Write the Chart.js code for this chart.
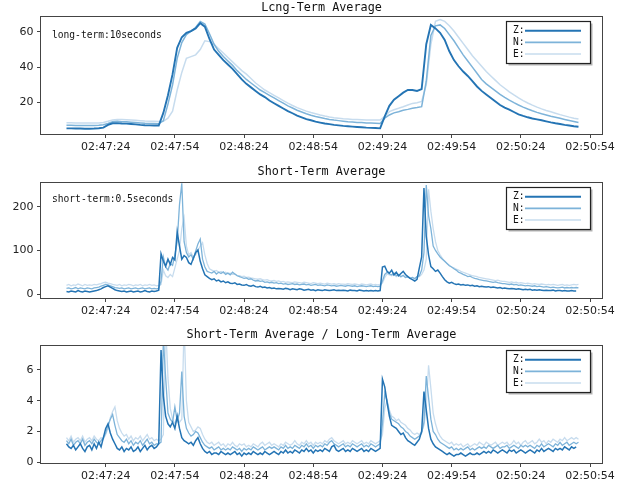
<!DOCTYPE html>
<html>
<head>
<meta charset="utf-8">
<script src="https://cdn.jsdelivr.net/npm/chart.js@4.4.0/dist/chart.umd.min.js"></script>
<style>
  body { margin: 0; background: #fff; }
  #wrap { position: relative; width: 628px; height: 485px; }
  canvas { position: absolute; left: 0; }
</style>
</head>
<body>
<div id="wrap">
  <canvas id="ltaChart" width="628" height="160" style="top:0px"></canvas>
  <canvas id="staChart" width="628" height="160" style="top:160px"></canvas>
  <canvas id="ratioChart" width="628" height="165" style="top:320px"></canvas>
</div>
<script>
// time axis: seconds after 02:47:00
const tickSeconds = [24, 54, 84, 114, 144, 174, 204, 234];
const tickLabels = ['02:47:24', '02:47:54', '02:48:24', '02:48:54', '02:49:24', '02:49:54', '02:50:24', '02:50:54'];
const channels = ['Z:', 'N:', 'E:'];

// long-term average, one sample every 2 s from 02:47:07
const ltaStart = 7, ltaStep = 2;
const ltaZ = [
  5.2, 5.2, 5.1, 5.1, 5.0, 5.0, 5.1, 5.3, 5.6, 7.2,
  8.1, 8.2, 8.0, 7.9, 7.7, 7.5, 7.2, 7.0, 6.9, 6.8,
  6.8, 14, 24, 36, 51, 57, 59.5, 60.5, 62, 65,
  63, 56, 50, 47, 44, 41.5, 39, 36, 33, 30.5,
  28.5, 26.5, 24.5, 23, 21, 19.5, 18, 16.5, 15, 13.8,
  12.5, 11.5, 10.5, 9.8, 9.0, 8.5, 8.0, 7.6, 7.2, 6.9,
  6.6, 6.4, 6.2, 6.0, 5.8, 5.6, 5.5, 5.4, 5.2, 12,
  18, 21.5, 23.5, 25.5, 27, 27, 26.5, 27.5, 53, 64,
  62, 59.5, 55.5, 49, 44, 40.5, 37.5, 35, 32, 29,
  26.5, 24.5, 22.5, 20.5, 18.5, 17, 15.8, 14.5, 13.2, 12.3,
  11.5, 10.8, 10.3, 9.8, 9.2, 8.6, 8.1, 7.7, 7.2, 6.8,
  6.4, 6.1
];
const ltaN = [
  7.0, 7.0, 6.9, 6.9, 6.8, 6.8, 6.9, 7.0, 7.3, 8.0,
  9.0, 9.2, 9.0, 8.9, 8.7, 8.5, 8.3, 8.1, 8.0, 7.9,
  7.8, 9.5, 19, 30, 45, 54, 58.5, 60.5, 62.5, 66,
  64.5, 59, 53, 49, 46, 43.5, 41, 38, 35.5, 33,
  31, 29, 27, 25.5, 24, 22.5, 21, 19.5, 18, 16.8,
  15.5, 14.5, 13.5, 12.7, 12, 11.4, 10.8, 10.3, 9.9, 9.6,
  9.3, 9.0, 8.8, 8.6, 8.5, 8.3, 8.2, 8.1, 8.0, 11,
  12.8, 14, 14.7, 15.5, 16, 16.6, 17, 17.5, 32, 58,
  63.5, 64, 62, 58.5, 55, 51, 47, 43.5, 40, 36.5,
  33, 30.5, 28.5, 26.5, 24.5, 22.8, 21.2, 19.8, 18.5, 17.3,
  16.2, 15.2, 14.3, 13.5, 12.8, 12.1, 11.5, 10.9, 10.3, 9.7,
  9.1, 8.5
];
const ltaE = [
  8.4, 8.4, 8.3, 8.3, 8.2, 8.2, 8.2, 8.3, 8.5, 9.2,
  10.0, 10.3, 10.2, 10.1, 10.0, 9.8, 9.6, 9.4, 9.3, 9.2,
  9.1, 9.2, 11, 15, 27, 37, 45, 46, 47, 50,
  55, 54.5, 53, 50.5, 48, 45.5, 43, 40.5, 38, 36,
  33.5, 31, 29, 27, 25.5, 24, 22.5, 21, 19.5, 18.2,
  17, 16, 15, 14.2, 13.5, 12.8, 12.2, 11.7, 11.3, 11,
  10.7, 10.5, 10.3, 10.2, 10.1, 10, 10, 9.9, 9.9, 12,
  14.7, 15.8, 16.6, 17.5, 18.5, 19.4, 19.8, 20.5, 30, 53,
  66, 67, 66, 63.5, 60.5, 57, 53.5, 50, 46.5, 43.5,
  40.5, 37.5, 35, 32.5, 30, 28, 26, 24.2, 22.5, 21,
  19.6, 18.4, 17.3, 16.3, 15.4, 14.6, 13.8, 13, 12.3, 11.6,
  11, 10.5
];

// short-term average and ratio, one sample every 1 s from 02:47:07
const staStart = 7, staStep = 1;
const staZ = [
  6, 5, 7, 6, 5, 8, 6, 5, 7, 6,
  5, 6, 7, 8, 10, 12, 15, 17, 19, 16,
  13, 10, 8, 7, 6, 7, 5, 6, 7, 5,
  6, 7, 5, 6, 8, 6, 5, 7, 6, 7,
  9, 92, 75, 64, 80, 68, 84, 78, 143, 110,
  80, 88, 84, 72, 68, 82, 95, 101, 75, 58,
  44, 40, 36, 33, 35, 30, 32, 28, 30, 26,
  28, 25, 24, 26, 22, 23, 21, 20, 22, 19,
  18, 20, 17, 16, 18, 15, 16, 14, 15, 13,
  14, 12, 13, 12, 11, 13, 12, 10, 12, 11,
  10, 12, 11, 9, 10, 11, 9, 10, 8, 10,
  9, 8, 10, 9, 8, 9, 10, 8, 9, 8,
  9, 8, 7, 9, 8, 8, 7, 9, 8, 7,
  8, 7, 8, 7, 8, 7, 8, 62, 64, 52,
  48, 55, 44, 50, 42, 47, 52, 45, 40, 36,
  33, 30, 34, 60, 85, 243, 132, 90, 63, 58,
  52, 55, 48, 40, 33, 28, 25, 27, 24, 22,
  23, 21, 22, 20, 21, 19, 20, 18, 19, 17,
  18, 17, 16, 17, 15, 16, 15, 14, 15, 13,
  14, 13, 12, 13, 12, 11, 12, 11, 10, 11,
  10, 11, 9, 10, 9, 10, 9, 8, 9, 8,
  8, 9, 7, 8, 8, 7, 8, 7, 7, 8,
  7, 7
];
const staN = [
  13, 14, 12, 13, 15, 12, 14, 13, 12, 14,
  13, 12, 14, 15, 16, 18, 20, 22, 21, 19,
  17, 15, 14, 13, 14, 12, 13, 14, 12, 13,
  14, 12, 13, 14, 12, 13, 14, 12, 13, 12,
  13, 30, 85, 62, 55, 70, 66, 90, 120, 205,
  254, 120, 95, 85, 90, 80, 98, 115, 126, 80,
  62, 52, 50, 48, 52, 46, 50, 47, 51, 45,
  48, 44, 50, 46, 42, 40, 38, 36, 37, 34,
  35, 32, 30, 31, 29, 30, 27, 28, 26, 27,
  25, 26, 24, 25, 23, 24, 22, 23, 24, 22,
  23, 21, 22, 23, 21, 22, 20, 21, 22, 20,
  21, 20, 19, 21, 20, 19, 20, 18, 19, 20,
  19, 18, 20, 19, 18, 19, 17, 18, 19, 18,
  17, 18, 19, 17, 18, 17, 18, 30, 45, 50,
  46, 44, 48, 42, 45, 40, 43, 38, 40, 36,
  38, 35, 40, 42, 55, 95, 250, 180, 150, 110,
  100, 92, 85, 80, 75, 70, 65, 62, 58, 55,
  50, 48, 45, 43, 40, 41, 38, 36, 35, 33,
  32, 31, 30, 29, 28, 27, 28, 26, 25, 24,
  24, 23, 22, 23, 21, 22, 20, 21, 20, 19,
  20, 19, 18, 19, 17, 18, 17, 16, 17, 16,
  15, 16, 15, 14, 15, 16, 14, 15, 14, 15,
  14, 15, 14
];
const staE = [
  20, 22, 19, 21, 20, 23, 21, 19, 22, 20,
  21, 20, 22, 21, 23, 24, 26, 27, 25, 24,
  22, 21, 20, 22, 19, 21, 20, 22, 21, 19,
  21, 20, 22, 19, 21, 20, 22, 20, 21, 19,
  20, 22, 55, 42, 38, 45, 40, 60, 80, 100,
  150, 175, 110, 90, 95, 85, 90, 100, 110, 118,
  90, 70, 58, 55, 52, 54, 50, 52, 48, 50,
  47, 48, 45, 46, 43, 42, 40, 41, 38, 39,
  37, 36, 35, 34, 35, 33, 32, 33, 31, 30,
  31, 29, 30, 28, 29, 27, 28, 27, 26, 28,
  27, 26, 25, 27, 26, 25, 24, 26, 25, 24,
  25, 24, 23, 25, 24, 23, 24, 22, 24, 23,
  23, 22, 24, 23, 22, 23, 22, 21, 23, 22,
  21, 22, 23, 21, 22, 21, 22, 25, 38, 46,
  44, 42, 45, 40, 43, 39, 42, 38, 40, 37,
  38, 36, 39, 40, 45, 55, 80, 240, 190, 150,
  120, 100, 90, 82, 75, 70, 66, 62, 60, 57,
  55, 52, 50, 48, 46, 44, 42, 41, 40, 38,
  37, 36, 35, 34, 33, 32, 31, 32, 30, 29,
  29, 28, 27, 28, 26, 27, 25, 26, 25, 24,
  25, 24, 23, 24, 23, 22, 23, 22, 21, 22,
  21, 22, 21, 20, 21, 22, 20, 21, 20, 21,
  22, 21, 22
];
const ratioZ = [
  1.2, 1.0, 0.9, 1.1, 0.8, 1.0, 1.2, 0.9, 0.7, 1.0,
  1.1, 0.8, 1.2, 0.9, 1.3, 1.0, 1.6, 2.2, 2.5, 1.9,
  1.5, 1.2, 0.9, 0.8, 1.0, 0.7, 0.9, 0.8, 1.0, 0.7,
  0.8, 1.0, 0.7, 0.9, 1.1, 0.8, 1.0, 1.1, 0.9, 1.0,
  1.2, 7.3, 4.3, 3.0, 2.5, 2.3, 2.6, 2.2, 3.0, 2.2,
  1.6, 1.4, 1.3, 1.2, 1.3, 1.1, 1.4, 1.6, 1.2, 0.9,
  0.7, 0.6, 0.7, 0.5, 0.6, 0.6, 0.5, 0.7, 0.6, 0.5,
  0.6, 0.5, 0.6, 0.7, 0.5, 0.6, 0.4, 0.6, 0.5, 0.6,
  0.5, 0.7, 0.6, 0.5, 0.6, 0.5, 0.7, 0.6, 0.5, 0.6,
  0.7, 0.6, 0.5, 0.7, 0.6, 0.8, 0.6, 0.7, 0.6, 0.8,
  0.7, 0.6, 0.8, 0.7, 0.9, 0.7, 0.8, 0.6, 0.8, 0.7,
  0.8, 0.7, 0.9, 0.8, 0.7, 1.0, 1.1, 0.8, 0.7, 0.8,
  0.9, 0.7, 0.8, 0.7, 0.9, 0.8, 0.7, 0.8, 0.9, 0.7,
  0.8, 0.7, 0.9, 0.8, 0.7, 0.8, 0.9, 5.4, 4.9, 3.9,
  3.0, 2.4, 2.3, 2.2, 2.0, 1.8, 1.9, 1.6, 1.4, 1.3,
  1.2, 1.1, 1.3, 1.5, 2.0, 4.6, 3.4, 2.2, 1.5, 1.2,
  1.0, 0.9, 0.8, 0.7, 0.6, 0.5, 0.6, 0.5, 0.4, 0.5,
  0.5, 0.6, 0.5, 0.4, 0.5, 0.6, 0.5, 0.5, 0.6, 0.5,
  0.6, 0.7, 0.6, 0.7, 0.6, 0.8, 0.7, 0.6, 0.7, 0.8,
  0.7, 0.6, 0.8, 0.7, 0.8, 0.6, 0.7, 0.8, 0.7, 0.6,
  0.7, 0.8, 0.7, 0.6, 0.8, 0.7, 0.9, 0.7, 0.8, 0.9,
  0.8, 0.7, 0.9, 0.8, 0.9, 0.8, 1.0, 0.9, 0.8, 1.0,
  0.9, 1.0
];
const ratioN = [
  1.4, 1.2, 1.5, 1.1, 1.3, 1.4, 1.2, 1.5, 1.1, 1.3,
  1.4, 1.2, 1.5, 1.3, 1.2, 1.4, 1.6, 1.9, 2.4, 2.8,
  3.1, 2.4, 1.8, 1.6, 1.4, 1.3, 1.5, 1.2, 1.4, 1.1,
  1.3, 1.2, 1.4, 1.1, 1.3, 1.5, 1.2, 1.3, 1.1, 1.2,
  1.2, 1.3, 8.0, 5.5, 3.2, 2.8, 2.6, 3.6, 2.7, 3.2,
  5.9, 3.0, 2.2, 1.9, 1.7, 1.8, 2.0, 1.9, 1.6, 1.3,
  1.1, 1.0, 0.9, 1.0, 0.8, 0.9, 1.0, 0.8, 0.9, 0.8,
  0.9, 0.8, 1.0, 0.9, 0.8, 0.9, 0.7, 0.9, 0.8, 0.9,
  0.8, 1.0, 0.9, 0.8, 0.9, 1.0, 0.8, 0.9, 1.0, 0.9,
  1.0, 0.9, 0.8, 1.0, 0.9, 1.1, 0.9, 1.0, 0.9, 1.1,
  1.0, 0.9, 1.1, 1.0, 1.2, 1.0, 1.1, 0.9, 1.1, 1.0,
  1.1, 1.0, 1.2, 1.1, 1.3, 1.4, 1.2, 1.1, 1.0, 1.1,
  1.2, 1.0, 1.1, 1.0, 1.2, 1.1, 1.0, 1.1, 1.2, 1.0,
  1.1, 1.0, 1.2, 1.1, 1.0, 1.1, 1.2, 2.5, 4.5, 4.0,
  3.2, 2.8, 2.7, 2.6, 2.5, 2.3, 2.2, 2.0, 1.9, 1.7,
  1.6, 1.5, 1.6, 1.7, 1.9, 2.6, 5.6, 4.2, 2.8, 2.0,
  1.8, 1.5, 1.3, 1.2, 1.1, 1.0, 0.9, 1.0, 0.8, 0.9,
  0.8, 0.9, 0.8, 0.9, 1.0, 0.8, 0.9, 0.8, 0.9, 1.0,
  0.9, 1.0, 0.9, 1.1, 1.0, 0.9, 1.0, 1.1, 0.9, 1.0,
  1.0, 1.1, 0.9, 1.0, 1.1, 1.0, 0.9, 1.1, 1.0, 1.1,
  1.0, 1.1, 1.0, 0.9, 1.1, 1.0, 1.2, 1.0, 1.1, 1.2,
  1.1, 1.0, 1.2, 1.1, 1.3, 1.1, 1.2, 1.3, 1.1, 1.2,
  1.3, 1.2, 1.3
];
const ratioE = [
  1.6, 1.4, 1.7, 1.3, 1.5, 1.6, 1.4, 1.7, 1.3, 1.5,
  1.6, 1.4, 1.7, 1.5, 1.4, 1.6, 1.5, 1.8, 2.2, 2.9,
  3.3, 3.6, 2.7, 2.2, 1.9, 1.7, 1.8, 1.5, 1.7, 1.4,
  1.6, 1.5, 1.7, 1.4, 1.6, 1.8, 1.5, 1.6, 1.4, 1.5,
  1.4, 1.5, 1.8, 9.0, 5.5, 3.5, 2.8, 2.5, 2.9, 2.6,
  2.8, 9.0, 4.0, 2.6, 2.3, 2.0, 2.1, 2.3, 2.2, 1.8,
  1.5, 1.3, 1.2, 1.3, 1.1, 1.2, 1.3, 1.1, 1.2, 1.0,
  1.2, 1.1, 1.3, 1.1, 1.0, 1.2, 1.1, 1.2, 1.0, 1.1,
  1.0, 1.2, 1.1, 1.0, 1.2, 1.3, 1.1, 1.2, 1.3, 1.1,
  1.2, 1.1, 1.0, 1.2, 1.1, 1.3, 1.2, 1.1, 1.2, 1.4,
  1.2, 1.1, 1.3, 1.2, 1.4, 1.2, 1.3, 1.1, 1.3, 1.2,
  1.3, 1.2, 1.4, 1.3, 1.5, 1.6, 1.4, 1.3, 1.2, 1.3,
  1.4, 1.2, 1.3, 1.2, 1.4, 1.3, 1.2, 1.3, 1.4, 1.2,
  1.3, 1.2, 1.4, 1.3, 1.2, 1.3, 1.4, 1.8, 3.5, 4.0,
  3.4, 3.0, 2.9, 2.7, 2.8, 2.6, 2.5, 2.4, 2.2, 2.1,
  1.9, 1.8, 1.9, 1.8, 2.0, 2.4, 3.6, 6.3, 4.8, 3.2,
  2.5, 2.0, 1.7, 1.5, 1.4, 1.3, 1.2, 1.3, 1.1, 1.2,
  1.1, 1.2, 1.0, 1.1, 1.2, 1.0, 1.1, 1.2, 1.1, 1.3,
  1.2, 1.1, 1.3, 1.2, 1.1, 1.2, 1.3, 1.1, 1.2, 1.3,
  1.2, 1.3, 1.1, 1.2, 1.4, 1.2, 1.3, 1.1, 1.3, 1.4,
  1.2, 1.3, 1.4, 1.2, 1.3, 1.5, 1.3, 1.4, 1.2, 1.4,
  1.3, 1.5, 1.4, 1.3, 1.5, 1.4, 1.6, 1.4, 1.5, 1.6,
  1.5, 1.6, 1.5
];

const colors = ['#2474b4', '#7db3d9', '#c7dcee'];

Chart.defaults.font.family = 'DejaVu Sans';
Chart.defaults.color = '#222';

// frame, title, note and text-then-line legend, drawn like the original subplots
const panelDeco = {
  id: 'panelDeco',
  afterDraw(chart, args, opts) {
    const { ctx, chartArea: a } = chart;
    ctx.save();
    ctx.strokeStyle = '#444';
    ctx.lineWidth = 1;
    ctx.strokeRect(a.left - 0.5, a.top - 0.5, a.right - a.left + 1, a.bottom - a.top + 1);

    ctx.fillStyle = '#111';
    ctx.textBaseline = 'middle';
    ctx.font = '11.8px "DejaVu Sans Mono"';
    ctx.textAlign = 'center';
    ctx.fillText(opts.title, (a.left + a.right) / 2, a.top - opts.titleGap);
    if (opts.note) {
      ctx.font = '9.6px "DejaVu Sans Mono"';
      ctx.textAlign = 'left';
      ctx.fillText(opts.note, a.left + 11, a.top + opts.noteGap);
    }

    const bx = a.right - 95.5, by = a.top + 4.5, bw = 84, bh = 42;
    ctx.fillStyle = 'rgba(0,0,0,0.3)';
    ctx.fillRect(bx + 2, by + 2, bw, bh);
    ctx.fillStyle = '#fff';
    ctx.fillRect(bx, by, bw, bh);
    ctx.strokeStyle = '#222';
    ctx.lineWidth = 1.2;
    ctx.strokeRect(bx, by, bw, bh);
    ctx.font = '9.6px "DejaVu Sans Mono"';
    ctx.textAlign = 'left';
    chart.data.datasets.forEach((ds, i) => {
      const y = by + 9.3 + i * 11.6;
      ctx.fillStyle = '#111';
      ctx.fillText(ds.label, bx + 6.5, y);
      ctx.strokeStyle = ds.borderColor;
      ctx.lineWidth = i === 0 ? 2 : 1.6;
      ctx.beginPath();
      ctx.moveTo(bx + 18.5, y);
      ctx.lineTo(bx + 74.5, y);
      ctx.stroke();
    });
    ctx.restore();
  }
};

function toPoints(start, step, values) {
  return values.map((v, i) => ({ x: start + i * step, y: v }));
}

function makePanel(id, start, step, series, widths, yMin, yMax, yTicks, top, xHeight, deco) {
  new Chart(document.getElementById(id), {
    type: 'line',
    data: {
      datasets: series.map((values, i) => ({
        label: channels[i],
        data: toPoints(start, step, values),
        borderColor: colors[i],
        borderWidth: widths[i],
        pointRadius: 0,
        tension: 0,
        fill: false
      }))
    },
    options: {
      responsive: false,
      animation: false,
      layout: { padding: { top: top, right: 26, bottom: 0, left: 0 } },
      plugins: {
        legend: { display: false },
        tooltip: { enabled: false },
        panelDeco: deco
      },
      scales: {
        x: {
          type: 'linear',
          min: -4.05,
          max: 239.2,
          afterFit: s => { s.height = xHeight; },
          afterBuildTicks: s => { s.ticks = tickSeconds.map(v => ({ value: v })); },
          ticks: {
            callback: (v, i) => tickLabels[i],
            font: { size: 11 },
            color: '#222',
            padding: 3,
            maxRotation: 0,
            autoSkip: false
          },
          grid: { drawOnChartArea: false, tickLength: 4, color: '#444' },
          border: { display: false }
        },
        y: {
          min: yMin,
          max: yMax,
          afterFit: s => { s.width = 41; },
          afterBuildTicks: s => { s.ticks = yTicks.map(v => ({ value: v })); },
          ticks: { font: { size: 11 }, color: '#222', padding: 3.5 },
          grid: { drawOnChartArea: false, tickLength: 4, color: '#444' },
          border: { display: false }
        }
      }
    },
    plugins: [panelDeco]
  });
}

makePanel('ltaChart', ltaStart, ltaStep, [ltaZ, ltaN, ltaE], [1.9, 1.5, 1.5],
  2, 68.5, [20, 40, 60], 17, 26,
  { title: 'Lcng-Term Average', titleGap: 9, note: 'long-term:10seconds', noteGap: 18 });

makePanel('staChart', staStart, staStep, [staZ, staN, staE], [1.5, 1.3, 1.3],
  -9, 254.5, [0, 100, 200], 23, 22,
  { title: 'Short-Term Average', titleGap: 11.3, note: 'short-term:0.5seconds', noteGap: 16.5 });

makePanel('ratioChart', staStart, staStep, [ratioZ, ratioN, ratioE], [1.5, 1.3, 1.3],
  -0.05, 7.56, [0, 2, 4, 6], 26, 22,
  { title: 'Short-Term Average / Long-Term Average', titleGap: 11, note: '', noteGap: 0 });
</script>
</body>
</html>
